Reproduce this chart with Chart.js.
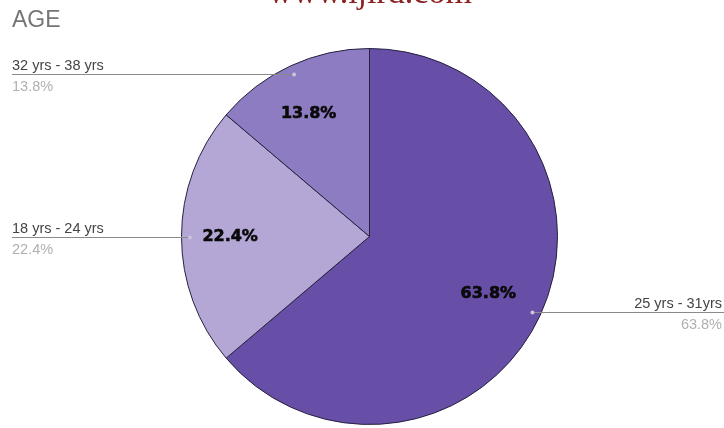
<!DOCTYPE html>
<html lang="en">
<head>
  <meta charset="UTF-8" />
  <title>AGE</title>
  <script src="https://cdn.jsdelivr.net/npm/chart.js"></script>
  <style>
    body { margin: 0; background: #fff; }
    #wrap { width: 724px; height: 428px; position: relative; }
  </style>
</head>
<body>
  <div id="wrap"><canvas id="agePie" width="724" height="428"></canvas></div>
  <script>
    // age groups, in drawing order (clockwise from 12 o'clock)
    const categories = ['25 yrs - 31yrs', '18 yrs - 24 yrs', '32 yrs - 38 yrs'];
    const shares = [63.8, 22.4, 13.8];
    const sliceColors = ['#674ea7', '#b4a7d6', '#8e7cc3'];

    const pct = v => v.toFixed(1) + '%';

    // bold % inside each slice, plus leader lines out to the side labels
    const sliceLabels = {
      id: 'sliceLabels',
      afterDatasetsDraw(chart) {
        const ctx = chart.ctx;
        const arcs = chart.getDatasetMeta(0).data;
        const W = chart.width;
        ctx.save();
        arcs.forEach((arc, i) => {
          const { x, y, startAngle, endAngle, outerRadius } = arc.getProps(['x', 'y', 'startAngle', 'endAngle', 'outerRadius'], true);
          const mid = (startAngle + endAngle) / 2;
          const cos = Math.cos(mid), sin = Math.sin(mid);

          // value inside the slice
          const lx = x + cos * outerRadius * 0.72 - 4;
          const ly = y + sin * outerRadius * 0.72;
          ctx.font = 'bold 16px "DejaVu Sans"';
          ctx.fillStyle = '#0a0a0a';
          ctx.strokeStyle = '#0a0a0a';
          ctx.lineWidth = 0.6;
          ctx.textAlign = 'center';
          ctx.textBaseline = 'middle';
          ctx.fillText(pct(shares[i]), lx, ly);
          ctx.strokeText(pct(shares[i]), lx, ly);

          // leader: dot just inside the rim, then a flat line to the page edge
          const dx = x + cos * outerRadius * 0.955;
          const dy = Math.round(y + sin * outerRadius * 0.955) + 0.5;
          const right = cos > 0;
          ctx.strokeStyle = '#8a8a8a';
          ctx.lineWidth = 1;
          ctx.beginPath();
          ctx.moveTo(dx, dy);
          ctx.lineTo(right ? W : 12, dy);
          ctx.stroke();
          ctx.fillStyle = '#c9c3dc';
          ctx.beginPath();
          ctx.arc(dx, dy, 2, 0, Math.PI * 2);
          ctx.fill();

          // category name above the line, share below it
          const tx = right ? W - 2 : 12;
          ctx.textAlign = right ? 'right' : 'left';
          ctx.textBaseline = 'alphabetic';
          ctx.font = '14.5px "Liberation Sans"';
          ctx.fillStyle = '#444';
          ctx.fillText(categories[i], tx, dy - 5);
          ctx.fillStyle = '#b0b0b0';
          ctx.fillText(pct(shares[i]), tx, dy + 16);
        });

        // heading and site mark
        ctx.textAlign = 'left';
        ctx.font = '23px "Liberation Sans"';
        ctx.fillStyle = '#757575';
        ctx.fillText('AGE', 12, 27);
        ctx.textAlign = 'center';
        ctx.font = '34px "Liberation Serif"';
        ctx.fillStyle = '#8b2323';
        ctx.fillText('www.ijird.com', 370, 3);
        ctx.restore();
      }
    };

    new Chart(document.getElementById('agePie'), {
      type: 'pie',
      data: {
        labels: categories,
        datasets: [{
          data: shares,
          backgroundColor: sliceColors,
          borderColor: '#25213f',
          borderWidth: 1
        }]
      },
      options: {
        responsive: false,
        animation: false,
        layout: { padding: { left: 181, right: 166, top: 48, bottom: 3 } },
        plugins: {
          legend: { display: false },
          tooltip: { enabled: false }
        }
      },
      plugins: [sliceLabels]
    });
  </script>
</body>
</html>
